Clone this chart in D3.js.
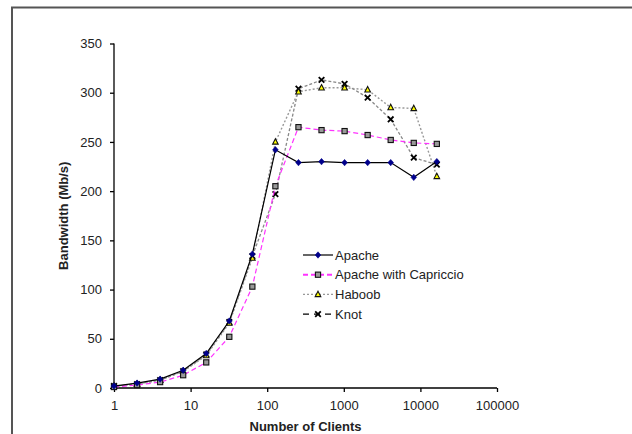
<!DOCTYPE html>
<html>
<head>
<meta charset="utf-8">
<script src="https://cdn.jsdelivr.net/npm/d3@7"></script>
<style>
  body { margin: 0; background: #fff; }
  svg text { font-family: "Liberation Sans", Arial, sans-serif; }
</style>
</head>
<body>
<div id="chart"></div>
<script>
// clients (log scale) and bandwidth per server
const clients = [1, 2, 4, 8, 16, 32, 64, 128, 256, 512, 1024, 2048, 4096, 8192, 16384];
const apache = [2, 5, 9, 18, 35, 68, 136, 242, 229, 230, 229, 229, 229, 214, 230];
const capriccio = [1, 3, 6, 13, 26, 52, 103, 205, 265, 262, 261, 257, 252, 249, 248];
const haboob = [2, 4, 8, 17, 33, 66, 132, 250, 301, 305, 305, 303, 285, 284, 215];
const knot = [2, 4, 8, 17, 34, 67, 134, 197, 304, 313, 309, 295, 273, 234, 227];
const xTicks = [1, 10, 100, 1000, 10000, 100000];
const yTicks = [0, 50, 100, 150, 200, 250, 300, 350];

const W = 632, H = 434;
const margin = {top: 43.5, right: 135, bottom: 46, left: 114};

const svg = d3.select("#chart").append("svg")
  .attr("width", W).attr("height", H);

// outer frame, open to the right and bottom
svg.append("path")
  .attr("d", `M12,${H} L12,7.5 L${W},7.5`)
  .attr("fill", "none").attr("stroke", "#555").attr("stroke-width", 2);

const x = d3.scaleLog().domain([1, 100000]).range([margin.left, W - margin.right]);
const y = d3.scaleLinear().domain([0, 350]).range([H - margin.bottom, margin.top]);

// axes
const xAxis = svg.append("g")
  .attr("transform", `translate(0,${y(0)})`)
  .call(d3.axisBottom(x).tickValues(xTicks).tickFormat(d3.format("d")).tickSize(4).tickPadding(9));
const yAxis = svg.append("g")
  .attr("transform", `translate(${x(1)},0)`)
  .call(d3.axisLeft(y).tickValues(yTicks).tickSize(4).tickPadding(8));
[xAxis, yAxis].forEach(a => {
  a.select(".domain").attr("stroke", "#000").attr("stroke-width", 1.3);
  a.selectAll(".tick line").attr("stroke", "#000").attr("stroke-width", 1.3);
  a.selectAll("text").attr("font-size", 13).attr("fill", "#222")
    .style("font-family", "'Liberation Sans', Arial, sans-serif");
});
xAxis.select(".domain").attr("d", `M${x(1)},0H${x(100000)}`);
yAxis.select(".domain").attr("d", `M0,${y(0)}V${y(350)}`);

svg.append("text")
  .attr("x", (x(1) + x(100000)) / 2).attr("y", 431)
  .attr("text-anchor", "middle").attr("font-size", 13).attr("font-weight", "bold")
  .attr("fill", "#222").text("Number of Clients");
svg.append("text")
  .attr("transform", `translate(68,${(y(0) + y(350)) / 2}) rotate(-90)`)
  .attr("text-anchor", "middle").attr("font-size", 13).attr("font-weight", "bold")
  .attr("fill", "#222").text("Bandwidth (Mb/s)");

// series definitions
const series = [
  {name: "Apache", values: apache, stroke: "#000", dash: null, width: 1.2, marker: "diamond"},
  {name: "Apache with Capriccio", values: capriccio, stroke: "#ff33ff", dash: "5,3", width: 1.2, marker: "square"},
  {name: "Haboob", values: haboob, stroke: "#999", dash: "2,2", width: 1.4, marker: "triangle"},
  {name: "Knot", values: knot, stroke: "#888", dash: "3,2", width: 1.3, marker: "cross"}
];

const line = d3.line()
  .x((d, i) => x(clients[i]))
  .y(d => y(d));

function drawMarker(g, type, cx, cy) {
  if (type === "diamond") {
    g.append("path").attr("d", `M${cx},${cy - 3.2}L${cx + 2.8},${cy}L${cx},${cy + 3.2}L${cx - 2.8},${cy}Z`)
      .attr("fill", "#00008b").attr("stroke", "#00008b").attr("stroke-width", 0.6);
  } else if (type === "square") {
    g.append("rect").attr("x", cx - 2.6).attr("y", cy - 2.6).attr("width", 5.2).attr("height", 5.2)
      .attr("fill", "#999").attr("stroke", "#111").attr("stroke-width", 1.1);
  } else if (type === "triangle") {
    g.append("path").attr("d", `M${cx},${cy - 3.2}L${cx + 2.8},${cy + 2.2}L${cx - 2.8},${cy + 2.2}Z`)
      .attr("fill", "#ffff00").attr("stroke", "#111").attr("stroke-width", 1.1);
  } else if (type === "cross") {
    g.append("path").attr("d", `M${cx - 2.8},${cy - 2.8}L${cx + 2.8},${cy + 2.8}M${cx + 2.8},${cy - 2.8}L${cx - 2.8},${cy + 2.8}`)
      .attr("stroke", "#000").attr("stroke-width", 1.8);
  }
}

// draw back to front: Knot, Haboob, Capriccio, Apache
series.slice().reverse().forEach(s => {
  const g = svg.append("g");
  g.append("path").datum(s.values)
    .attr("d", line)
    .attr("fill", "none").attr("stroke", s.stroke)
    .attr("stroke-width", s.width).attr("stroke-dasharray", s.dash);
  s.values.forEach((v, i) => drawMarker(g, s.marker, x(clients[i]), y(v)));
});

// legend
const legend = svg.append("g");
series.forEach((s, i) => {
  const ly = 255 + i * 19.7;
  legend.append("line").attr("x1", 303).attr("x2", 333).attr("y1", ly).attr("y2", ly)
    .attr("stroke", s.name === "Knot" ? "#000" : s.stroke)
    .attr("stroke-width", s.name === "Apache with Capriccio" ? 2 : s.width)
    .attr("stroke-dasharray", s.name === "Knot" ? "6,5" : s.dash);
  drawMarker(legend, s.marker, 318, ly);
  legend.append("text").attr("x", 335).attr("y", ly + 4.5)
    .attr("font-size", 13).attr("fill", "#222").text(s.name);
});
</script>
</body>
</html>
